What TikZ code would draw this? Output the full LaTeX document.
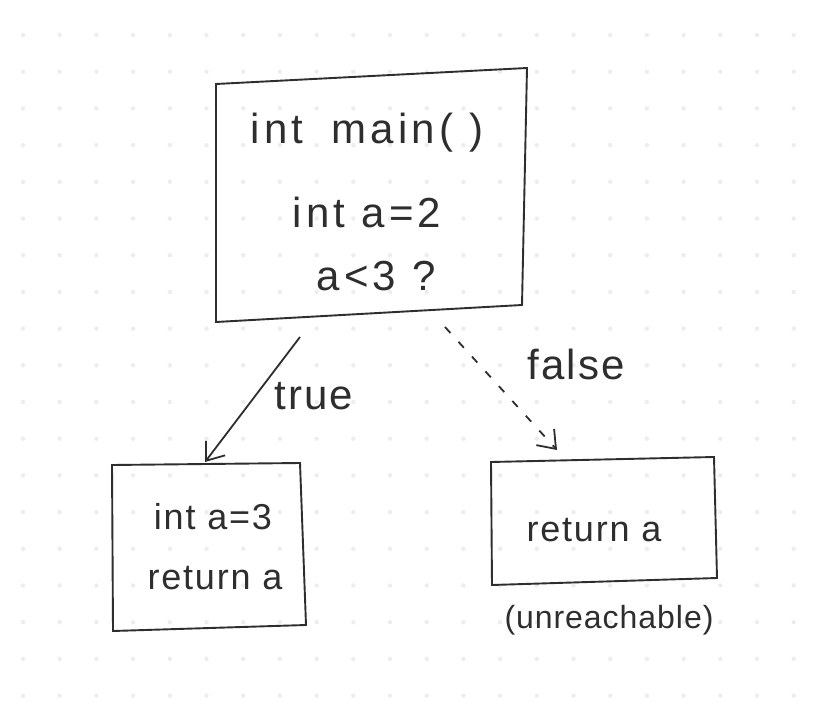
\documentclass[tikz,border=0pt]{standalone}
\usepackage{fontspec}
\setmainfont{Liberation Sans}
\usetikzlibrary{arrows.meta}
\definecolor{ink}{HTML}{2E2E2E}
\definecolor{dotc}{HTML}{EDEDED}
\begin{document}
\begin{tikzpicture}[x=1pt,y=-1pt,
  box/.style={draw=ink,line width=1.9pt},
  big/.style={text=ink,font=\fontsize{42}{48}\selectfont\addfontfeature{LetterSpace=10},inner sep=0pt},
  mid/.style={text=ink,font=\fontsize{36}{42}\selectfont\addfontfeature{LetterSpace=5},inner sep=0pt},
  lab/.style={text=ink,font=\fontsize{42}{48}\selectfont\addfontfeature{LetterSpace=5},inner sep=0pt},
  small/.style={text=ink,font=\fontsize{32}{38}\selectfont\addfontfeature{LetterSpace=3},inner sep=0pt},
  arr/.style={draw=ink,line width=1.8pt,-{Straight Barb[length=16pt,width=24pt,line width=1.8pt]}}]
\useasboundingbox[fill=white] (0,0) rectangle (816,701);
% dot grid
\foreach \i in {0,...,21}{\foreach \j in {0,...,18}{
  \fill[dotc] (23+36.7*\i,35+36.7*\j) circle (2.2);
}}
% boxes
\draw[box] (216,84) -- (527,68) -- (522,305) -- (216,322) -- cycle;
\coordinate (mainB) at (300,337);
\coordinate (mainF) at (445,327);
\draw[box] (112,465) -- (300,463) -- (306,625) -- (113,631) -- cycle;
\draw[box] (491,462) -- (714,457) -- (717,578) -- (492,585) -- cycle;
\coordinate (leftT) at (205,462);
\coordinate (rightT) at (557,450);
% texts
\node[big] (t1) at (367,133) {int\hspace{28pt}main( )};
\node[big] (t2) at (367,212) {int a=2};
\node[big] (t3) at (376,276) {a<3 ?};
\node[mid] (l1) at (213,517) {int a=3};
\node[mid] (l2) at (215,578) {return a};
\node[mid] (r1) at (594,530) {return a};
\node[small] (u) at (609,620) {(unreachable)};
% arrows
\draw[arr] (mainB) -- (leftT);
\draw[arr,dash pattern=on 8pt off 12pt] (mainF) -- (rightT);
\node[lab] (tl) at (314,396) {true};
\node[lab] (fl) at (576,364) {false};
\end{tikzpicture}
\end{document}
